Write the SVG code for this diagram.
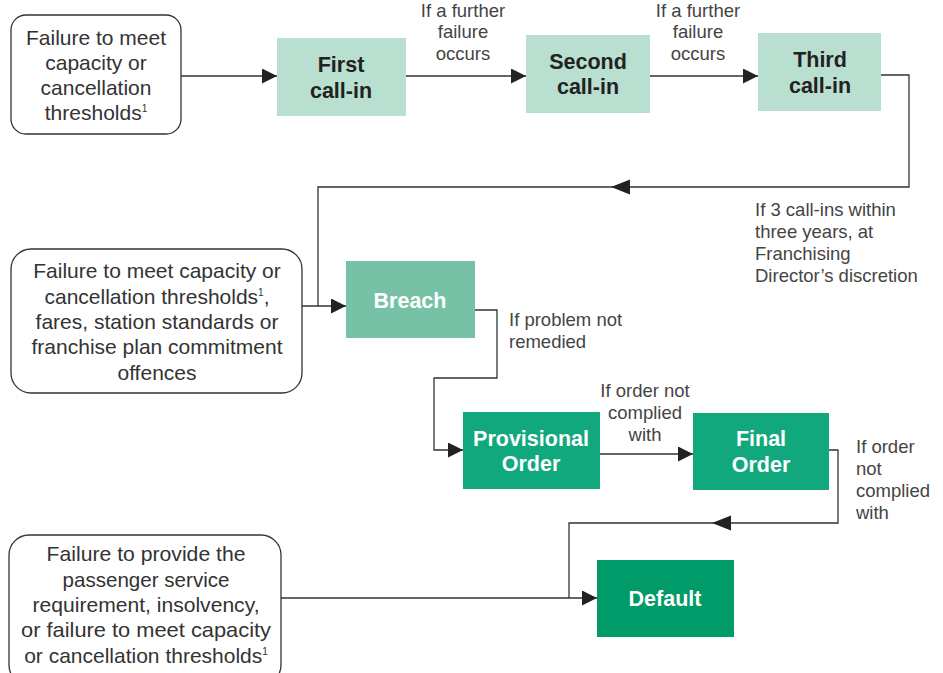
<svg xmlns="http://www.w3.org/2000/svg" width="943" height="673" viewBox="0 0 943 673">
<defs>
<marker id="ah" viewBox="0 0 10 10" refX="10" refY="5" markerWidth="19" markerHeight="15" markerUnits="userSpaceOnUse" orient="auto">
<path d="M0,0 L10,5 L0,10 z" fill="#222"/>
</marker>
</defs>
<style>
.src{fill:#fff;stroke:#333;stroke-width:1.3}
.st{font-family:"Liberation Sans",Arial,sans-serif;font-size:21px;fill:#333;text-anchor:middle}
.lb{font-family:"Liberation Sans",Arial,sans-serif;font-size:18.5px;fill:#444}
.bt{font-family:"Liberation Sans",Arial,sans-serif;font-size:21.5px;font-weight:bold;text-anchor:middle}
.dk{fill:#222}
.wh{fill:#fff}
.ln{fill:none;stroke:#333;stroke-width:1.3}
.sup{font-size:10px}
</style>
<rect width="943" height="673" fill="#fff"/>

<g id="connectors">
<path class="ln" d="M181,76 H277" marker-end="url(#ah)"/>
<path class="ln" d="M406,76 H526" marker-end="url(#ah)"/>
<path class="ln" d="M650,76 H758" marker-end="url(#ah)"/>
<path class="ln" d="M881,75 H909 V187 H318 V306"/>
<path d="M611,187 L630,179.5 L630,194.5 z" fill="#222"/>
<path class="ln" d="M302,306 H346" marker-end="url(#ah)"/>
<path class="ln" d="M475,310 H497 V378 H434 V450 H463" marker-end="url(#ah)"/>
<path class="ln" d="M600,454 H693" marker-end="url(#ah)"/>
<path class="ln" d="M829,450 H838 V523 H569 V598"/>
<path d="M712,523 L731,515.5 L731,530.5 z" fill="#222"/>
<path class="ln" d="M281,598 H597" marker-end="url(#ah)"/>
</g>

<g id="src1">
<rect class="src" x="11" y="15" width="170" height="119" rx="15"/>
<text class="st" x="96" y="45">Failure to meet</text>
<text class="st" x="96" y="70">capacity or</text>
<text class="st" x="96" y="95">cancellation</text>
<text class="st" x="96" y="120">thresholds<tspan class="sup" dy="-8">1</tspan></text>
</g>

<g id="first">
<rect x="277" y="38" width="129" height="78" fill="#b9dfd0"/>
<text class="bt dk" x="341" y="72">First</text>
<text class="bt dk" x="341" y="98">call-in</text>
</g>

<g id="second">
<rect x="526" y="35" width="124" height="78" fill="#b9dfd0"/>
<text class="bt dk" x="588" y="69">Second</text>
<text class="bt dk" x="588" y="94">call-in</text>
</g>

<g id="third">
<rect x="758" y="33" width="123" height="78" fill="#b9dfd0"/>
<text class="bt dk" x="820" y="67">Third</text>
<text class="bt dk" x="820" y="93">call-in</text>
</g>

<g id="label1">
<text class="lb" x="463" y="17" text-anchor="middle">If a further</text>
<text class="lb" x="463" y="38" text-anchor="middle">failure</text>
<text class="lb" x="463" y="60" text-anchor="middle">occurs</text>
</g>
<g id="label2">
<text class="lb" x="698" y="17" text-anchor="middle">If a further</text>
<text class="lb" x="698" y="38" text-anchor="middle">failure</text>
<text class="lb" x="698" y="60" text-anchor="middle">occurs</text>
</g>
<g id="label3">
<text class="lb" x="755" y="216">If 3 call-ins within</text>
<text class="lb" x="755" y="238">three years, at</text>
<text class="lb" x="755" y="260">Franchising</text>
<text class="lb" x="755" y="282">Director’s discretion</text>
</g>

<g id="src2">
<rect class="src" x="11" y="249" width="291" height="144" rx="20"/>
<text class="st" x="157" y="278">Failure to meet capacity or</text>
<text class="st" x="157" y="304">cancellation thresholds<tspan class="sup" dy="-8">1</tspan><tspan dy="8">,</tspan></text>
<text class="st" x="157" y="329">fares, station standards or</text>
<text class="st" x="157" y="354">franchise plan commitment</text>
<text class="st" x="157" y="380">offences</text>
</g>

<g id="breach">
<rect x="346" y="261" width="129" height="77" fill="#77c2a6"/>
<text class="bt wh" x="410" y="308">Breach</text>
</g>

<g id="label4">
<text class="lb" x="509" y="326">If problem not</text>
<text class="lb" x="509" y="348">remedied</text>
</g>

<g id="provisional">
<rect x="463" y="412" width="137" height="77" fill="#12a87e"/>
<text class="bt wh" x="531" y="446">Provisional</text>
<text class="bt wh" x="531" y="471">Order</text>
</g>

<g id="label5">
<text class="lb" x="645" y="397" text-anchor="middle">If order not</text>
<text class="lb" x="645" y="419" text-anchor="middle">complied</text>
<text class="lb" x="645" y="441" text-anchor="middle">with</text>
</g>

<g id="final">
<rect x="693" y="413" width="136" height="77" fill="#12a87e"/>
<text class="bt wh" x="761" y="446">Final</text>
<text class="bt wh" x="761" y="472">Order</text>
</g>

<g id="label6">
<text class="lb" x="856" y="453">If order</text>
<text class="lb" x="856" y="475">not</text>
<text class="lb" x="856" y="497">complied</text>
<text class="lb" x="856" y="519">with</text>
</g>

<g id="src3">
<rect class="src" x="9" y="535" width="272" height="150" rx="20"/>
<text class="st" x="146" y="561" textLength="199" lengthAdjust="spacingAndGlyphs">Failure to provide the</text>
<text class="st" x="146" y="587" textLength="167" lengthAdjust="spacingAndGlyphs">passenger service</text>
<text class="st" x="146" y="612" textLength="227" lengthAdjust="spacingAndGlyphs">requirement, insolvency,</text>
<text class="st" x="146" y="637" textLength="250" lengthAdjust="spacingAndGlyphs">or failure to meet capacity</text>
<text class="st" x="146" y="663">or cancellation thresholds<tspan class="sup" dy="-8">1</tspan></text>
</g>

<g id="default">
<rect x="597" y="560" width="137" height="77" fill="#009b68"/>
<text class="bt wh" x="665" y="606">Default</text>
</g>
</svg>
